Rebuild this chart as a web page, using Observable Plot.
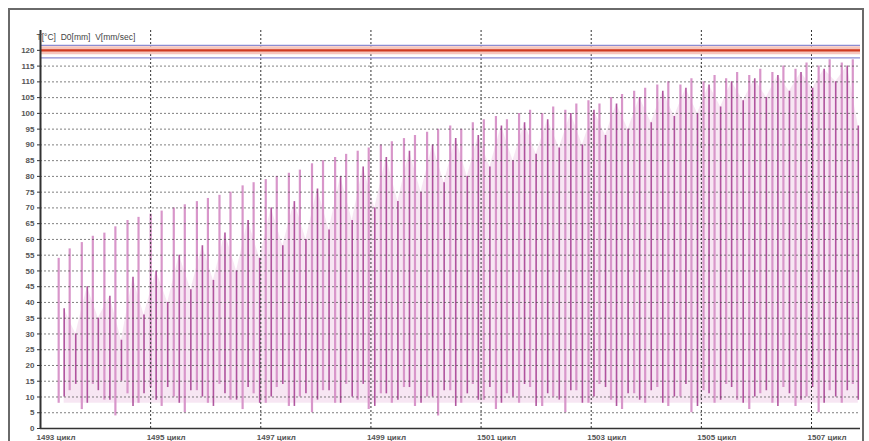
<!DOCTYPE html>
<html>
<head>
<meta charset="utf-8">
<script src="https://cdn.jsdelivr.net/npm/d3@7"></script>
<script src="https://cdn.jsdelivr.net/npm/@observablehq/plot@0.6"></script>
<style>
  html, body { margin: 0; padding: 0; background: #fff; }
  #wrap { position: relative; width: 869px; height: 441px; overflow: hidden; }
  #border { position: absolute; left: 8px; top: 8px; width: 856px; height: 440px; border: 2px solid #6a6a6a; box-sizing: border-box; pointer-events: none; }
  svg { display: block; font-family: "Liberation Sans", Arial, sans-serif; }
</style>
</head>
<body>
<div id="wrap"><div id="border"></div></div>
<script>
// ---- data ----
const header = "T[°C]  D0[mm]  V[mm/sec]";
const yTicks = [0,5,10,15,20,25,30,35,40,45,50,55,60,65,70,75,80,85,90,95,100,105,110,115,120];
const xTicks = [1493,1495,1497,1499,1501,1503,1505,1507];
const xLabels = ["1493 цикл","1495 цикл","1497 цикл","1499 цикл","1501 цикл","1503 цикл","1505 цикл","1507 цикл"];

// set-point line and its limits
const setPoint = 120;
const limitHigh = 121.6;
const limitLow = 117.6;

// pale strokes (cycle position, top, bottom)
const paleX = [1493.33,1493.53,1493.75,1493.95,1494.16,1494.36,1494.58,1494.78,1495.00,1495.20,
  1495.42,1495.62,1495.84,1496.04,1496.25,1496.45,1496.67,1496.87,1497.09,1497.29,
  1497.51,1497.71,1497.93,1498.13,1498.35,1498.55,1498.76,1498.96,1499.18,1499.38,
  1499.60,1499.80,1500.02,1500.22,1500.44,1500.64,1500.85,1501.05,1501.27,1501.47,
  1501.69,1501.89,1502.11,1502.31,1502.53,1502.73,1502.95,1503.15,1503.36,1503.56,
  1503.78,1503.98,1504.20,1504.40,1504.62,1504.82,1505.04,1505.24,1505.45,1505.65,
  1505.87,1506.07,1506.29,1506.49,1506.71,1506.91,1507.13,1507.33,1507.55,1507.75];
const paleTop = [54,57,59,61,62,64,66,67,68,69,
  70,71,72,73,74,75,77,78,79,80,
  81,82,84,85,86,87,88,89,90,91,
  92,93,94,95,96,95,97,98,99,98,
  100,101,100,102,101,103,104,103,105,106,
  107,108,109,110,109,111,110,112,111,113,
  112,114,113,115,114,116,115,117,116,117];
const paleBottom = [8,12,6,14,9,4,11,8,13,7,
  10,5,12,8,14,9,6,11,8,13,
  7,10,5,12,8,14,9,6,11,8,
  13,7,10,4,12,8,14,9,6,11,
  8,13,7,10,5,12,8,14,9,6,
  11,8,13,7,10,5,12,8,14,9,
  6,11,8,13,7,10,5,12,8,14];

// dark strokes (cycle position, top, bottom)
const darkX = [1493.43,1493.64,1493.85,1494.05,1494.26,1494.47,1494.68,1494.88,1495.10,1495.31,
  1495.52,1495.73,1495.94,1496.14,1496.35,1496.56,1496.77,1496.98,1497.19,1497.40,
  1497.61,1497.82,1498.03,1498.24,1498.45,1498.66,1498.86,1499.07,1499.28,1499.49,
  1499.70,1499.91,1500.12,1500.33,1500.54,1500.75,1500.95,1501.16,1501.37,1501.58,
  1501.79,1502.00,1502.21,1502.42,1502.63,1502.84,1503.05,1503.26,1503.46,1503.67,
  1503.88,1504.09,1504.30,1504.51,1504.72,1504.93,1505.14,1505.35,1505.55,1505.76,
  1505.97,1506.18,1506.39,1506.60,1506.81,1507.02,1507.23,1507.44,1507.65,1507.85];
const darkTop = [38,30,45,35,42,28,48,36,50,40,
  55,44,58,47,62,50,66,54,70,58,
  72,60,76,63,80,66,83,70,86,72,
  88,75,90,78,92,80,93,83,96,85,
  97,87,98,89,100,90,101,93,103,95,
  105,97,107,99,108,100,109,102,110,104,
  111,105,112,107,113,108,114,110,115,96];
const darkBottom = [10,14,8,12,9,15,7,11,9,13,
  8,12,10,7,11,9,13,8,10,14,
  7,11,9,12,8,10,14,7,11,9,
  13,8,10,12,7,11,9,13,8,10,
  14,7,11,9,12,8,10,13,7,11,
  9,12,8,10,14,7,11,9,13,8,
  10,12,7,11,9,13,8,10,12,9];

// ---- tables built from the arrays ----
const pale = paleX.map((x, i) => ({x, top: paleTop[i], bottom: paleBottom[i]}));
const dark = darkX.map((x, i) => ({x, top: darkTop[i], bottom: darkBottom[i]}));
const xTickRows = xTicks.map((x, i) => ({x, label: xLabels[i]}));
const minorY = yTicks.filter(v => v > 0 && v < setPoint);

const chart = Plot.plot({
  width: 869,
  height: 441,
  marginLeft: 40,
  marginRight: 9,
  marginTop: 30,
  marginBottom: 13,
  x: {type: "linear", domain: [1493, 1507.89], axis: null},
  y: {type: "linear", domain: [0, 126.3], axis: null},
  style: {background: "transparent", fontFamily: "Liberation Sans, Arial, sans-serif"},
  marks: [
    // pink wash between strokes
    Plot.areaY(dark, {x: "x", y1: 8, y2: "top", fill: "#f4dcee", fillOpacity: 0.7}),
    // strokes
    Plot.ruleX(pale, {x: "x", y1: "bottom", y2: "top", stroke: "#d896ca", strokeWidth: 2.2}),
    Plot.ruleX(dark, {x: "x", y1: "bottom", y2: "top", stroke: "#9e2e88", strokeWidth: 1.6, strokeOpacity: 0.8}),
    // horizontal grid
    Plot.ruleY(minorY, {stroke: "#4a4a4a", strokeWidth: 1, strokeDasharray: "2,2", strokeOpacity: 0.7}),
    // vertical grid
    Plot.ruleX(xTicks.slice(1), {stroke: "#333", strokeWidth: 1, strokeDasharray: "2,2"}),
    // set-point band and lines
    Plot.ruleY([setPoint], {stroke: "#f6c6bd", strokeWidth: 8}),
    Plot.ruleY([limitHigh], {stroke: "#8c8cd2", strokeWidth: 1.2}),
    Plot.ruleY([limitLow], {stroke: "#8c8cd2", strokeWidth: 1.2}),
    Plot.ruleY([setPoint], {stroke: "#cf3a20", strokeWidth: 2.4}),
    // axes lines
    Plot.ruleX([1493], {stroke: "#333", strokeWidth: 2}),
    Plot.ruleY([0], {stroke: "#333", strokeWidth: 1.5}),
    Plot.axisY({ticks: yTicks, tickSize: 3, tickPadding: 3, fontSize: 8, fill: "#555", fontWeight: "bold", stroke: "#333", tickFormat: d => String(d)}),
    // x tick labels
    Plot.text(xTickRows, {x: "x", y: 0, text: "label", textAnchor: "start", dx: -4, dy: 9, fontSize: 8, fill: "#555", fontWeight: "bold"}),
    // header
    Plot.text([header], {x: 1493, y: 124, text: d => d, textAnchor: "start", dx: -4, fontSize: 8.5, fill: "#444"})
  ]
});
document.getElementById("wrap").prepend(chart);
</script>
</body>
</html>
